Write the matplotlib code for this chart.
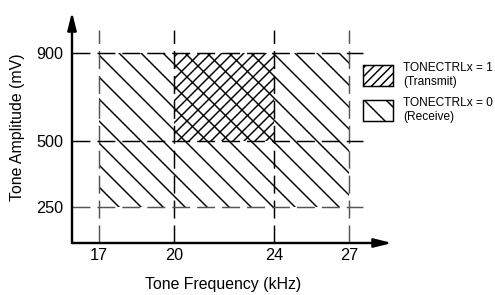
import numpy as np
import matplotlib
matplotlib.use("Agg")
import matplotlib.pyplot as plt
from matplotlib.patches import Patch

plt.rcParams["font.family"] = ["Liberation Sans", "DejaVu Sans"]
plt.rcParams["hatch.linewidth"] = 0.8
plt.rcParams["lines.scale_dashes"] = False

# ── data ─────────────────────────────────────────────────────────────────
freq_khz = [17, 20, 24, 27]
amp_mv = [250, 500, 900]
receive_khz = [17, 27]
receive_mv = [250, 900]
transmit_khz = [20, 24]
transmit_mv = [500, 900]
legend_labels = ["TONECTRLx = 1\n(Transmit)", "TONECTRLx = 0\n(Receive)"]

# schematic amplitude axis: not to scale, so map it piecewise-linear
AMP_KNOTS = [0, 250, 500, 900, 1400]
AMP_HEIGHT = [0, 36, 102, 190, 300]


def amp_fwd(v):
    return np.interp(v, AMP_KNOTS, AMP_HEIGHT)


def amp_inv(h):
    return np.interp(h, AMP_HEIGHT, AMP_KNOTS)


DPI = 132
W, H = 495, 295
fig = plt.figure(figsize=(W / DPI, H / DPI), dpi=DPI)
ax = fig.add_axes([72 / W, 52 / H, 320 / W, 231 / H])
ax.set_yscale("function", functions=(amp_fwd, amp_inv))
ax.set_xlim(15.92, 28.72)
ax.set_ylim(0, 1086)

# hatched operating regions
ax.fill_between(receive_khz, receive_mv[0], receive_mv[1], facecolor="none",
                edgecolor="black", hatch="\\\\", linewidth=0)
ax.fill_between(transmit_khz, transmit_mv[0], transmit_mv[1], facecolor="none",
                edgecolor="black", hatch="////", linewidth=0)

# dashed guide lines
dash = (0, (9.8, 3.8))
vcol = ["#555555", "black", "black", "#555555"]
hcol = ["#555555", "black", "black"]
ax.vlines(freq_khz, 0, 1005, colors=vcol, linestyles=[dash], linewidth=0.8)
ax.hlines(amp_mv, 15.92, 27.56, colors=hcol, linestyles=[dash], linewidth=0.8)

# axes drawn as arrows
for sp in ax.spines.values():
    sp.set_visible(False)
arrow = dict(arrowstyle="-|>,head_length=0.8,head_width=0.2", color="black",
             lw=1.3, shrinkA=0, shrinkB=0, mutation_scale=10)
ax.annotate("", xy=(1, 0), xytext=(0, 0), xycoords="axes fraction",
            arrowprops=arrow, annotation_clip=False)
ax.annotate("", xy=(0, 1), xytext=(0, 0), xycoords="axes fraction",
            arrowprops=arrow, annotation_clip=False)

ax.set_xticks(freq_khz, labels=[str(f) for f in freq_khz])
ax.set_yticks(amp_mv, labels=[str(a) for a in amp_mv])
ax.minorticks_off()
ax.tick_params(axis="x", length=0, pad=2.8, labelsize=8.9)
ax.tick_params(axis="y", length=0, pad=4.9, labelsize=8.9)

ax.set_xlabel("Tone Frequency (kHz)", fontsize=8.7, va="center", ha="center")
ax.xaxis.set_label_coords((223 - 72) / 320, (243 - 285) / 231)
ax.set_ylabel("Tone Amplitude (mV)", fontsize=8.7, va="center", ha="center")
ax.yaxis.set_label_coords((18 - 72) / 320, 0.5)

handles = [
    Patch(facecolor="white", edgecolor="black", hatch="/////", lw=0.8,
          label=legend_labels[0]),
    Patch(facecolor="white", edgecolor="black", hatch="\\\\", lw=0.8,
          label=legend_labels[1]),
]
fig.legend(handles=handles, loc="upper left",
           bbox_to_anchor=(363 / W, 1 - 62 / H), frameon=False, fontsize=6.5,
           handlelength=2.5, handleheight=2.34, handletextpad=0.85,
           labelspacing=0.75, borderpad=0, borderaxespad=0)

fig.savefig("out.png", dpi=DPI)
